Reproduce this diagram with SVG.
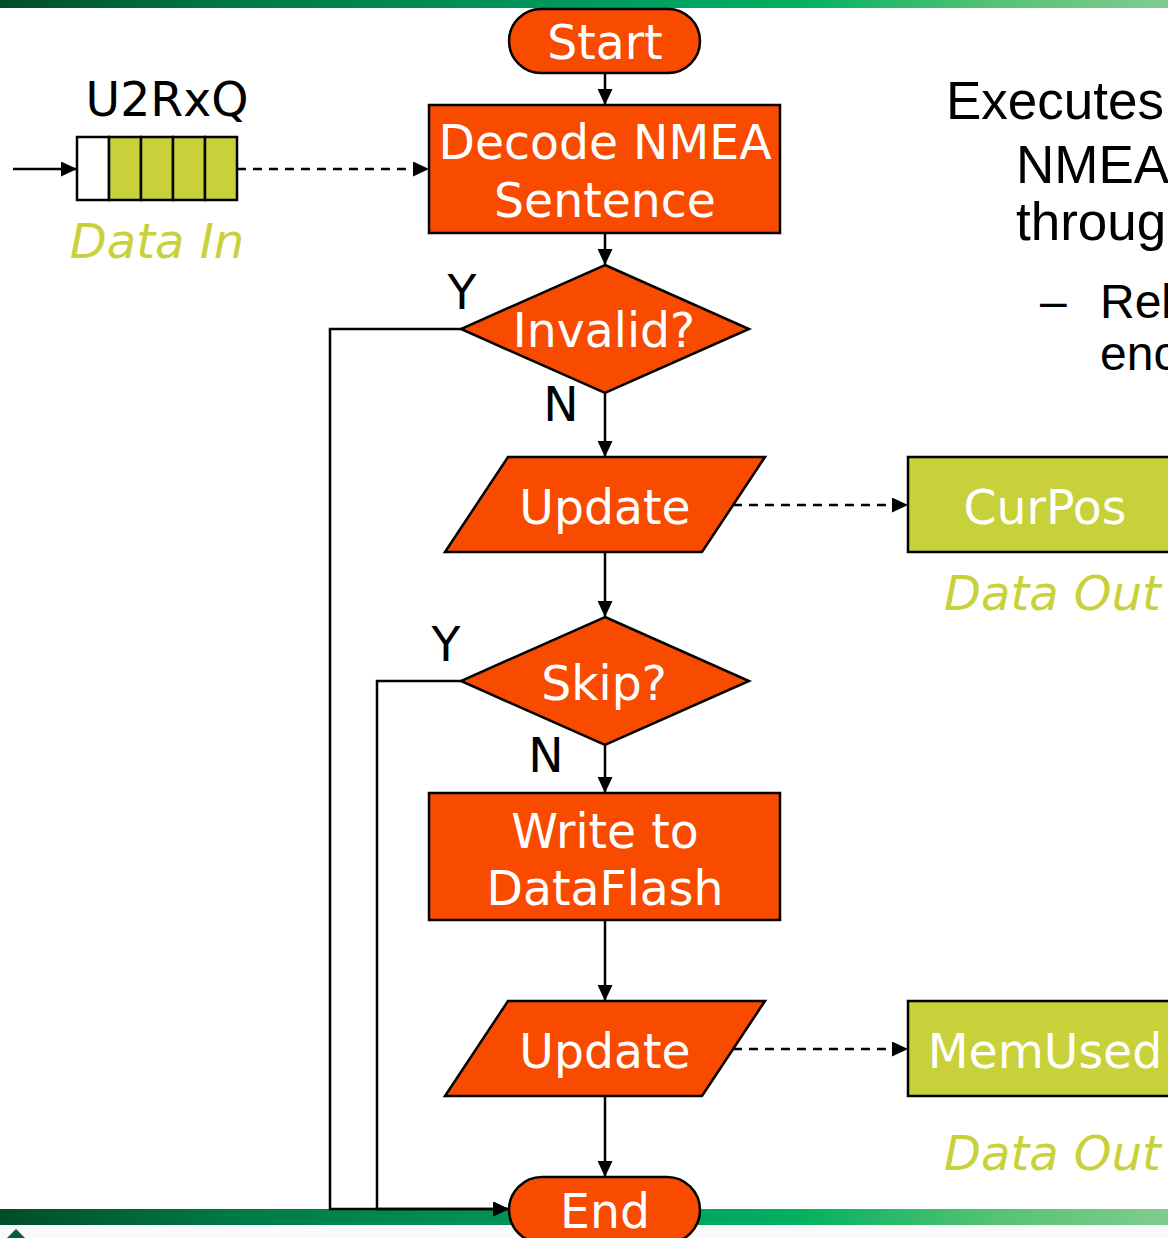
<svg xmlns="http://www.w3.org/2000/svg" width="1168" height="1238" viewBox="0 0 1168 1238">
  <defs>
    <linearGradient id="bar" x1="0" y1="0" x2="1" y2="0">
      <stop offset="0" stop-color="#004d2a"/>
      <stop offset="0.2" stop-color="#007a45"/>
      <stop offset="0.5" stop-color="#009a5e"/>
      <stop offset="0.68" stop-color="#00b060"/>
      <stop offset="0.85" stop-color="#55c274"/>
      <stop offset="1" stop-color="#80cc90"/>
    </linearGradient>
    <marker id="arrow" markerUnits="userSpaceOnUse" markerWidth="17" markerHeight="15" refX="16" refY="7.5" orient="auto">
      <path d="M0,0 L16,7.5 L0,15 z" fill="#000"/>
    </marker>
  </defs>
  <style>
    .proc { fill: #f84b00; stroke: #000; stroke-width: 2.5; }
    .data { fill: #c9d13a; stroke: #000; stroke-width: 2.5; }
    .cell { stroke: #000; stroke-width: 2.5; }
    .lbl { font-family: "DejaVu Sans", Verdana, sans-serif; font-size: 47.3px; fill: #fff; text-anchor: middle; }
    .blk { font-family: "DejaVu Sans", Verdana, sans-serif; font-size: 47.3px; fill: #000; text-anchor: middle; }
    .note { font-family: "DejaVu Sans", Verdana, sans-serif; font-size: 48px; font-style: italic; fill: #c9d13a; }
    .body { font-family: "Liberation Sans", Arial, sans-serif; fill: #000; }
    .flow { fill: none; stroke: #000; stroke-width: 2.5; marker-end: url(#arrow); }
    .dash { fill: none; stroke: #000; stroke-width: 2.5; stroke-dasharray: 9 7; marker-end: url(#arrow); }
  </style>

  <rect x="0" y="0" width="1168" height="1238" fill="#fff"/>
  <rect x="0" y="1225" width="1168" height="13" fill="#fafafa"/>

  <!-- top and bottom bands -->
  <rect x="0" y="0" width="1168" height="8" fill="url(#bar)"/>
  <rect x="0" y="1209" width="1168" height="16" fill="url(#bar)"/>
  <polygon points="7,1238 16,1229 25,1238" fill="#006030"/>

  <!-- description text, running off the right edge -->
  <g id="description" class="body">
    <text x="946" y="119" font-size="53">Executes</text>
    <text x="1016" y="183" font-size="53">NMEA</text>
    <text x="1016" y="240" font-size="53">throug</text>
    <text x="1040" y="318" font-size="48">–</text>
    <text x="1100" y="318" font-size="48">Rel</text>
    <text x="1100" y="370" font-size="48">enc</text>
  </g>

  <!-- connectors -->
  <g id="connectors">
    <line class="flow" x1="13" y1="169" x2="77" y2="169"/>
    <line class="dash" x1="237" y1="169" x2="429" y2="169"/>
    <line class="flow" x1="605" y1="73" x2="605" y2="105"/>
    <line class="flow" x1="605" y1="233" x2="605" y2="265"/>
    <line class="flow" x1="605" y1="393" x2="605" y2="457"/>
    <line class="dash" x1="733" y1="505" x2="908" y2="505"/>
    <line class="flow" x1="605" y1="552" x2="605" y2="617"/>
    <line class="flow" x1="605" y1="745" x2="605" y2="793"/>
    <line class="flow" x1="605" y1="920" x2="605" y2="1001"/>
    <line class="dash" x1="733" y1="1049" x2="908" y2="1049"/>
    <line class="flow" x1="605" y1="1096" x2="605" y2="1177"/>
    <polyline class="flow" points="461,329 330,329 330,1209 509,1209"/>
    <polyline class="flow" points="461,681 377,681 377,1209 509,1209"/>
  </g>

  <!-- queue -->
  <g id="queue">
    <text class="blk" x="167" y="116">U2RxQ</text>
    <rect class="cell" x="77" y="137" width="32" height="63" fill="#fff"/>
    <rect class="cell" x="109" y="137" width="32" height="63" fill="#c9d13a"/>
    <rect class="cell" x="141" y="137" width="32" height="63" fill="#c9d13a"/>
    <rect class="cell" x="173" y="137" width="32" height="63" fill="#c9d13a"/>
    <rect class="cell" x="205" y="137" width="32" height="63" fill="#c9d13a"/>
    <text class="note" x="157" y="258" text-anchor="middle">Data In</text>
  </g>

  <g id="start">
    <rect class="proc" x="509" y="9" width="191" height="64" rx="32"/>
    <text class="lbl" x="605" y="59">Start</text>
  </g>

  <g id="decode">
    <rect class="proc" x="429" y="105" width="351" height="128"/>
    <text class="lbl" x="605" y="159">Decode NMEA</text>
    <text class="lbl" x="605" y="217">Sentence</text>
  </g>

  <g id="invalid">
    <polygon class="proc" points="605,265 749,329 605,393 461,329"/>
    <text class="lbl" x="604" y="347">Invalid?</text>
    <text class="blk" x="462" y="309">Y</text>
    <text class="blk" x="561" y="421">N</text>
  </g>

  <g id="update1">
    <polygon class="proc" points="508,457 765,457 702,552 445,552"/>
    <text class="lbl" x="605" y="524">Update</text>
  </g>

  <g id="curpos">
    <rect class="data" x="908" y="457" width="274" height="95"/>
    <text class="lbl" x="1045" y="524">CurPos</text>
    <text class="note" x="944" y="610">Data Out</text>
  </g>

  <g id="skip">
    <polygon class="proc" points="605,617 749,681 605,745 461,681"/>
    <text class="lbl" x="604" y="700">Skip?</text>
    <text class="blk" x="446" y="661">Y</text>
    <text class="blk" x="546" y="772">N</text>
  </g>

  <g id="write">
    <rect class="proc" x="429" y="793" width="351" height="127"/>
    <text class="lbl" x="605" y="848">Write to</text>
    <text class="lbl" x="605" y="905">DataFlash</text>
  </g>

  <g id="update2">
    <polygon class="proc" points="508,1001 765,1001 702,1096 445,1096"/>
    <text class="lbl" x="605" y="1068">Update</text>
  </g>

  <g id="memused">
    <rect class="data" x="908" y="1001" width="274" height="95"/>
    <text class="lbl" x="1045" y="1068">MemUsed</text>
    <text class="note" x="944" y="1170">Data Out</text>
  </g>

  <g id="end">
    <rect class="proc" x="509" y="1177" width="191" height="66" rx="33"/>
    <text class="lbl" x="605" y="1228">End</text>
  </g>
</svg>
